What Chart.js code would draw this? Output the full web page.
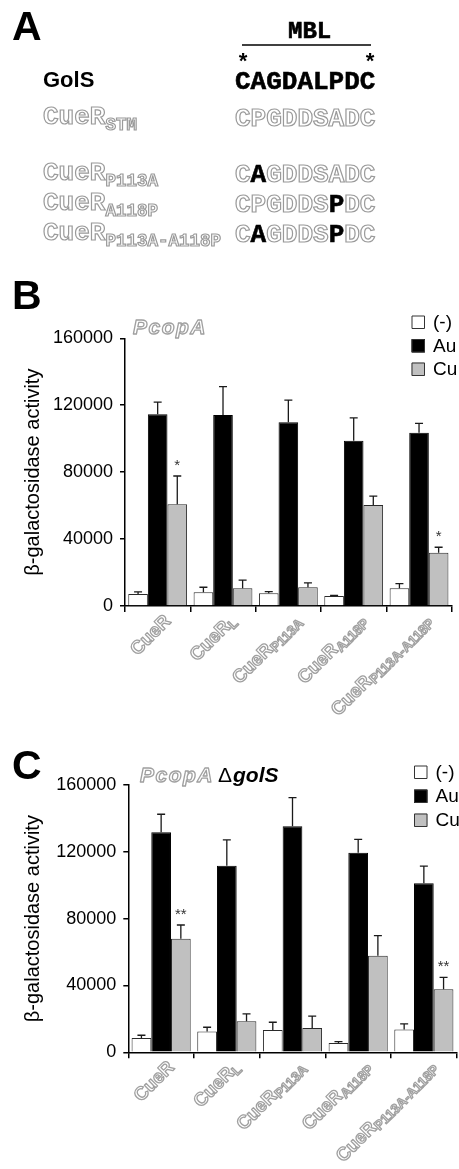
<!DOCTYPE html>
<html>
<head>
<meta charset="utf-8">
<script src="https://cdn.jsdelivr.net/npm/chart.js@4.4.1/dist/chart.umd.min.js"></script>
<style>
  html, body { margin: 0; padding: 0; background: #fff; }
  #page { position: relative; width: 459px; height: 1169px; overflow: hidden; }
  canvas { position: absolute; left: 0; }
  #chartB { top: 300px; }
  #chartC { top: 720px; }
  svg { position: absolute; left: 0; top: 0; pointer-events: none; }
  .sans { font-family: 'Liberation Sans', Arial, sans-serif; font-weight: bold; }
  .mono { font-family: 'Liberation Mono', 'Courier New', monospace; font-weight: bold; }
  .thick { stroke: #000; stroke-width: 0.6px; }
  .ol { fill: #fff; stroke: #9a9a9a; stroke-width: 1.2px; }
  .blk { fill: #000; stroke: #000; stroke-width: 0.6px; }
</style>
</head>
<body>
<div id="page">
  <canvas id="chartB" width="459" height="420"></canvas>
  <canvas id="chartC" width="459" height="449"></canvas>
  <svg width="459" height="1169">
    <text class="sans" x="12" y="40" font-size="41">A</text>
    <text class="sans" x="12" y="309" font-size="41">B</text>
    <text class="sans" x="12" y="779" font-size="41">C</text>

    <text class="mono thick" x="288" y="38" font-size="24">MBL</text>
    <line x1="242" y1="45" x2="371" y2="45" stroke="#000" stroke-width="1.5"/>
    <text class="mono" x="243" y="69" font-size="22" text-anchor="middle">*</text>
    <text class="mono" x="370" y="69" font-size="22" text-anchor="middle">*</text>

    <text class="sans" x="43" y="87" font-size="22">GolS</text>
    <text class="mono thick" x="235" y="89" font-size="26">CAGDALPDC</text>

    <text class="mono ol" x="43" y="124" font-size="26">CueR<tspan font-size="17.5" dy="6">STM</tspan></text>
    <text class="mono ol" x="235" y="126" font-size="26">CPGDDSADC</text>

    <text class="mono ol" x="43" y="180" font-size="26">CueR<tspan font-size="17.5" dy="6">P113A</tspan></text>
    <text class="mono ol" x="235" y="182" font-size="26">C<tspan class="blk">A</tspan>GDDSADC</text>

    <text class="mono ol" x="43" y="210" font-size="26">CueR<tspan font-size="17.5" dy="6">A118P</tspan></text>
    <text class="mono ol" x="235" y="212" font-size="26">CPGDDS<tspan class="blk">P</tspan>DC</text>

    <text class="mono ol" x="43" y="240" font-size="26">CueR<tspan font-size="17.5" dy="6">P113A-A118P</tspan></text>
    <text class="mono ol" x="235" y="242" font-size="26">C<tspan class="blk">A</tspan>GDDS<tspan class="blk">P</tspan>DC</text>
  </svg>
</div>
<script>
const groups = ['CueR', 'CueR_L', 'CueR_P113A', 'CueR_A118P', 'CueR_P113A-A118P'];
const treatments = ['(-)', 'Au', 'Cu'];
const yTicks = [0, 40000, 80000, 120000, 160000];
const fills = ['#ffffff', '#000000', '#c0c0c0'];

// panel B: PcopA
const bNone = [7200, 8200, 7600, 6000, 10600];
const bNoneErr = [1200, 3000, 1000, 400, 2800];
const bAu = [114600, 114200, 109800, 98800, 103600];
const bAuErr = [7300, 16900, 13300, 13600, 5600];
const bCu = [60800, 10600, 11200, 60400, 31900];
const bCuErr = [16900, 4900, 2600, 5300, 3200];
const bStars = ['*', '', '', '', '*'];

// panel C: PcopA delta golS
const cNone = [8600, 12400, 13400, 5600, 13600];
const cNoneErr = [1600, 2600, 4600, 800, 3400];
const cAu = [131700, 111700, 135300, 119500, 101200];
const cAuErr = [10800, 15400, 17100, 8000, 10300];
const cCu = [68000, 18600, 14600, 57800, 37700];
const cCuErr = [8200, 4400, 7000, 12000, 7200];
const cStars = ['**', '', '', '', '**'];

const SANS = "'Liberation Sans', Arial, sans-serif";

function outlined(ctx, text, x, y) {
  ctx.fillStyle = '#fff';
  ctx.fillText(text, x, y);
  ctx.strokeText(text, x, y);
}

const extras = {
  id: 'extras',
  afterDatasetsDraw(chart, args, o) {
    const ctx = chart.ctx, y = chart.scales.y;
    ctx.save();
    chart.data.datasets.forEach((ds, i) => {
      chart.getDatasetMeta(i).data.forEach((bar, j) => {
        const top = y.getPixelForValue(ds.data[j] + ds.err[j]);
        ctx.strokeStyle = '#1a1a1a';
        ctx.lineWidth = 1.3;
        ctx.beginPath();
        ctx.moveTo(bar.x, bar.y);
        ctx.lineTo(bar.x, top);
        ctx.moveTo(bar.x - 4, top);
        ctx.lineTo(bar.x + 4, top);
        ctx.stroke();
        if (ds.stars && ds.stars[j]) {
          ctx.font = '15px ' + SANS;
          ctx.fillStyle = '#333';
          ctx.textAlign = 'center';
          ctx.textBaseline = 'alphabetic';
          ctx.fillText(ds.stars[j], bar.x, top - 6);
        }
      });
    });
    ctx.restore();
  },
  afterDraw(chart, args, o) {
    const ctx = chart.ctx, x = chart.scales.x, axisY = chart.chartArea.bottom;
    ctx.save();
    ctx.strokeStyle = '#a0a0a0';
    ctx.lineWidth = 1.3;
    ctx.lineJoin = 'round';
    ctx.textBaseline = 'alphabetic';

    // rotated category labels with subscripts
    chart.data.labels.forEach((lab, i) => {
      const [main, sub = ''] = lab.split('_');
      ctx.font = 'bold 18.5px ' + SANS;
      const mw = ctx.measureText(main).width;
      ctx.font = 'bold 13.5px ' + SANS;
      const sw = ctx.measureText(sub).width;
      ctx.save();
      ctx.translate(x.getPixelForValue(i) + 14, axisY + 16);
      ctx.rotate(-Math.PI / 4);
      ctx.textAlign = 'left';
      ctx.font = 'bold 18.5px ' + SANS;
      outlined(ctx, main, -(mw + sw), 0);
      if (sub) {
        ctx.font = 'bold 13.5px ' + SANS;
        outlined(ctx, sub, -sw, 3);
      }
      ctx.restore();
    });

    // panel title
    ctx.textAlign = 'left';
    ctx.font = 'italic bold 21px ' + SANS;
    ctx.letterSpacing = '1.5px';
    outlined(ctx, o.title[0], o.titleX, o.titleY);
    ctx.letterSpacing = '0px';
    if (o.title.length > 1) {
      ctx.fillStyle = '#000';
      ctx.font = '21px ' + SANS;
      ctx.fillText(o.title[1], o.deltaX, o.titleY);
      const dw = ctx.measureText(o.title[1]).width;
      ctx.font = 'italic bold 21px ' + SANS;
      ctx.fillText(o.title[2], o.deltaX + dw + 1, o.titleY);
    }

    // legend
    ctx.textBaseline = 'middle';
    chart.data.datasets.forEach((ds, i) => {
      const top = o.legendTop + i * o.legendStep;
      ctx.fillStyle = ds.backgroundColor;
      ctx.fillRect(o.legendX, top, 13.5, 13.5);
      ctx.strokeStyle = '#333';
      ctx.lineWidth = 1;
      ctx.strokeRect(o.legendX + 0.5, top + 0.5, 12.5, 12.5);
      ctx.fillStyle = '#000';
      ctx.font = '19px ' + SANS;
      ctx.fillText(ds.label, o.legendX + 21.5, top + 7.5);
    });
    ctx.restore();
  }
};

function makeChart(id, sets, stars, o) {
  return new Chart(document.getElementById(id), {
    type: 'bar',
    data: {
      labels: groups,
      datasets: treatments.map((t, i) => ({
        label: t,
        data: sets[i][0],
        err: sets[i][1],
        stars: i === 2 ? stars : null,
        backgroundColor: fills[i],
        borderColor: i === 1 ? '#000' : '#2a2a2a',
        borderWidth: 1,
        categoryPercentage: 0.9,
        barPercentage: 1.0
      }))
    },
    options: {
      responsive: false,
      animation: false,
      layout: { padding: { top: o.top, left: 17, right: o.right, bottom: 0 } },
      plugins: { legend: { display: false }, tooltip: { enabled: false }, extras: o },
      scales: {
        x: {
          grid: { offset: true, drawOnChartArea: false, drawTicks: true, tickLength: 6, color: '#000', lineWidth: 1.5 },
          border: { color: '#000', width: 1.5 },
          ticks: { display: false },
          afterFit: s => { s.height = o.xh; }
        },
        y: {
          min: 0,
          max: 160000,
          afterBuildTicks: s => { s.ticks = yTicks.map(v => ({ value: v })); },
          grid: { drawOnChartArea: false, tickLength: 5, color: '#000', lineWidth: 1.5 },
          border: { color: '#000', width: 1.5 },
          ticks: { color: '#000', font: { size: 18, family: SANS }, padding: 7, callback: v => String(v) },
          title: { display: true, text: 'β-galactosidase activity', color: '#000', font: { size: 20, family: SANS }, padding: { top: 4, bottom: 0 } },
          afterFit: s => { s.width = o.yw; }
        }
      }
    },
    plugins: [extras]
  });
}

makeChart('chartB', [[bNone, bNoneErr], [bAu, bAuErr], [bCu, bCuErr]], bStars, {
  top: 38.3, right: 7.3, yw: 108, xh: 114,
  title: ['PcopA'], titleX: 133, titleY: 33.5,
  legendX: 411.5, legendTop: 15.5, legendStep: 23.5
});

makeChart('chartC', [[cNone, cNoneErr], [cAu, cAuErr], [cCu, cCuErr]], cStars, {
  top: 65, right: 2.3, yw: 111.3, xh: 116.7,
  title: ['PcopA', 'Δ', 'golS'], titleX: 140, titleY: 62, deltaX: 218,
  legendX: 414, legendTop: 45.5, legendStep: 24
});
</script>
</body>
</html>
